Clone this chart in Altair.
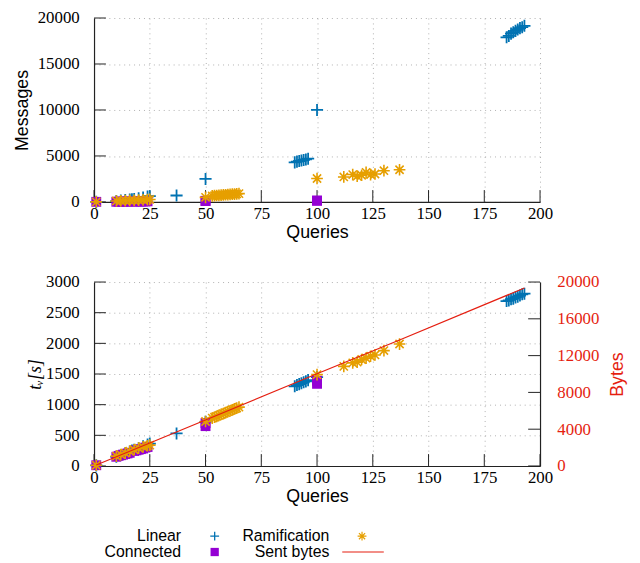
import altair as alt
import pandas as pd

# ---------------- data ----------------
x_ticks = [0, 25, 50, 75, 100, 125, 150, 175, 200]
msg_ticks = [0, 5000, 10000, 15000, 20000]
tv_ticks = [0, 500, 1000, 1500, 2000, 2500, 3000]
byte_ticks = [0, 4000, 8000, 12000, 16000, 20000]

lin_q = [1, 10, 12, 14, 16, 17, 18, 20, 22, 24, 25, 37, 50,
         90, 91, 92, 93, 94, 95, 96, 100,
         185, 186, 187, 188, 189, 190, 191, 192, 193]
lin_msg = [10, 100, 140, 200, 250, 290, 320, 400, 480, 580, 625, 700, 2500,
           4300, 4380, 4450, 4500, 4560, 4620, 4700, 10000,
           17900, 18050, 18300, 18450, 18600, 18750, 18900, 19000, 19150]
lin_tv = [10, 150, 180, 205, 235, 250, 265, 290, 320, 350, 365, 530, 720,
          1300, 1320, 1335, 1350, 1365, 1380, 1400, 1450,
          2690, 2700, 2720, 2730, 2750, 2760, 2780, 2800, 2810]

con_q = [1, 10, 11, 12, 13, 14, 15, 16, 18, 19, 20, 21, 22, 23, 24, 50, 50, 100, 100]
con_msg = [10, 20, 25, 30, 30, 35, 40, 40, 45, 50, 50, 55, 60, 60, 65, 100, 120, 130, 150]
con_tv = [12, 150, 165, 175, 185, 195, 205, 215, 245, 255, 265, 275, 285, 300, 310,
          650, 700, 1340, 1390]

ram_q = [1, 10, 12, 14, 16, 18, 20, 22, 24, 25, 50,
         53, 54, 55, 56, 57, 58, 59, 60, 61, 62, 63, 64, 65, 100,
         112, 116, 118, 120, 122, 124, 126, 130, 137]
ram_msg = [10, 100, 120, 140, 160, 180, 200, 220, 250, 270, 500,
           650, 680, 700, 720, 740, 760, 780, 800, 820, 840, 860, 880, 900, 2550,
           2720, 2980, 2800, 2900, 3220, 2980, 3040, 3400, 3500]
ram_tv = [12, 160, 185, 210, 240, 265, 290, 310, 330, 340, 725,
          780, 795, 810, 825, 840, 855, 870, 885, 900, 915, 930, 945, 960, 1490,
          1624, 1682, 1694, 1737, 1758, 1790, 1811, 1882, 1989]

bytes_q = [1, 10, 25, 50, 100, 137, 193]
bytes_v = [100, 1000, 2500, 5000, 10030, 13700, 19350]

legend_labels = ["Linear", "Ramification", "Connected", "Sent bytes"]

# ---------------- style ----------------
BLUE = "#0072b2"
PURPLE = "#9400d3"
ORANGE = "#e69f00"
RED = "#e51e10"
W, H = 451, 186
TICK = 12
PLUS = "M-1,0L1,0M0,-1L0,1"
STAR = "M-1,0L1,0M0,-1L0,1M-0.7,-0.7L0.7,0.7M-0.7,0.7L0.7,-0.7"

xscale = alt.Scale(domain=[0, 200], nice=False, zero=False, padding=0)
xaxis = alt.Axis(values=x_ticks, title="Queries", format="d", labelFlush=False)


def frame(q, v):
    return pd.DataFrame({"q": q, "v": v})


def series_layers(vals, yscale, yaxis):
    lin, con, ram = vals
    enc = dict(x=alt.X("q:Q", scale=xscale, axis=xaxis),
               y=alt.Y("v:Q", scale=yscale, axis=yaxis))
    l1 = alt.Chart(frame(lin_q, lin)).mark_point(
        shape=PLUS, filled=False, size=150, strokeWidth=1.8, color=BLUE, opacity=1).encode(**enc)
    l2 = alt.Chart(frame(con_q, con)).mark_point(
        shape="square", filled=True, size=100, color=PURPLE, opacity=1).encode(**enc)
    l3 = alt.Chart(frame(ram_q, ram)).mark_point(
        shape=STAR, filled=False, size=140, strokeWidth=1.6, color=ORANGE, opacity=1).encode(**enc)
    xt = alt.Chart(pd.DataFrame({"q": x_ticks})).mark_rule(color="#222", strokeWidth=1).encode(
        x=alt.X("q:Q", scale=xscale, axis=xaxis), y=alt.value(H), y2=alt.value(H - TICK))
    return [xt, l1, l2, l3]


def ytick_layer(ticks, yscale, yaxis, right=False):
    if right:
        xs, xe = alt.value(W), alt.value(W - TICK)
    else:
        xs, xe = alt.value(0), alt.value(TICK)
    return alt.Chart(pd.DataFrame({"v": ticks})).mark_rule(color="#222", strokeWidth=1).encode(
        y=alt.Y("v:Q", scale=yscale, axis=yaxis), x=xs, x2=xe)


# ---------------- top panel ----------------
msg_scale = alt.Scale(domain=[0, 20000], nice=False, padding=0)
msg_axis = alt.Axis(values=msg_ticks, title="Messages", format="d")
top = alt.layer(
    ytick_layer(msg_ticks, msg_scale, msg_axis),
    *series_layers((lin_msg, con_msg, ram_msg), msg_scale, msg_axis)
).properties(width=W, height=H)

# ---------------- bottom panel ----------------
tv_scale = alt.Scale(domain=[0, 3000], nice=False, padding=0)
tv_axis = alt.Axis(values=tv_ticks, title="tᵥ[s]", format="d", titlePadding=1,
                   titleFont="Liberation Serif", titleFontStyle="italic", titleFontSize=18)
left = alt.layer(
    ytick_layer(tv_ticks, tv_scale, tv_axis),
    *series_layers((lin_tv, con_tv, ram_tv), tv_scale, tv_axis)
)
byte_scale = alt.Scale(domain=[0, 20000], nice=False, padding=0)
byte_axis = alt.Axis(values=byte_ticks, title="Bytes", format="d", orient="right", grid=False,
                     labelColor=RED, titleColor=RED, titleAngle=270, titleBaseline="top",
                     labelAlign="left", labelPadding=17, titlePadding=10)
line = alt.Chart(frame(bytes_q, bytes_v)).mark_line(color=RED, strokeWidth=1.2).encode(
    x=alt.X("q:Q", scale=xscale, axis=xaxis),
    y=alt.Y("v:Q", scale=byte_scale, axis=byte_axis))
right = alt.layer(line, ytick_layer(byte_ticks, byte_scale, byte_axis, right=True))
bottom = alt.layer(left, right).resolve_scale(y="independent").properties(width=W, height=H)

# ---------------- legend panel ----------------
def leg_text(label, x, y):
    return alt.Chart(pd.DataFrame({"label": [label]})).mark_text(
        align="right", baseline="middle", font="Liberation Sans", fontSize=16, color="black"
    ).encode(x=alt.value(x), y=alt.value(y), text="label:N")


def leg_point(label, x, y, **kw):
    return alt.Chart(pd.DataFrame({"label": [label]})).mark_point(opacity=1, **kw).encode(
        x=alt.value(x), y=alt.value(y))


R1, R2 = 8, 24
legend = alt.layer(
    leg_text(legend_labels[0], 88, R1),
    leg_point(legend_labels[0], 122, R1, shape=PLUS, filled=False, size=80, strokeWidth=1.3, color=BLUE),
    leg_text(legend_labels[1], 238, R1),
    leg_point(legend_labels[1], 271, R1, shape=STAR, filled=False, size=80, strokeWidth=1.2, color=ORANGE),
    leg_text(legend_labels[2], 88, R2),
    leg_point(legend_labels[2], 122, R2, shape="square", filled=True, size=70, color=PURPLE),
    leg_text(legend_labels[3], 238, R2),
    alt.Chart(pd.DataFrame({"label": [legend_labels[3]]})).mark_rule(color=RED, strokeWidth=1.2).encode(
        x=alt.value(251), x2=alt.value(293), y=alt.value(R2)),
).properties(width=W, height=30)

panels = alt.vconcat(top, bottom, spacing=32)
chart = alt.vconcat(panels, legend, spacing=23).properties(
    padding={"left": 5, "top": -2, "right": 5, "bottom": 0}
).configure_view(stroke=None).configure_axis(
    labelFont="Liberation Serif", labelFontSize=17, labelColor="black",
    titleFont="Liberation Sans", titleFontSize=18, titleFontWeight="normal", titleColor="black",
    ticks=False, labelPadding=4, titlePadding=2,
    domainColor="#222", domainWidth=1.2,
    gridColor="#b0b0b0", gridDash=[1, 4], gridWidth=1,
).configure_axisY(labelPadding=15, titlePadding=6)

chart.save("out.html", embed_options={"renderer": "svg", "actions": False})
